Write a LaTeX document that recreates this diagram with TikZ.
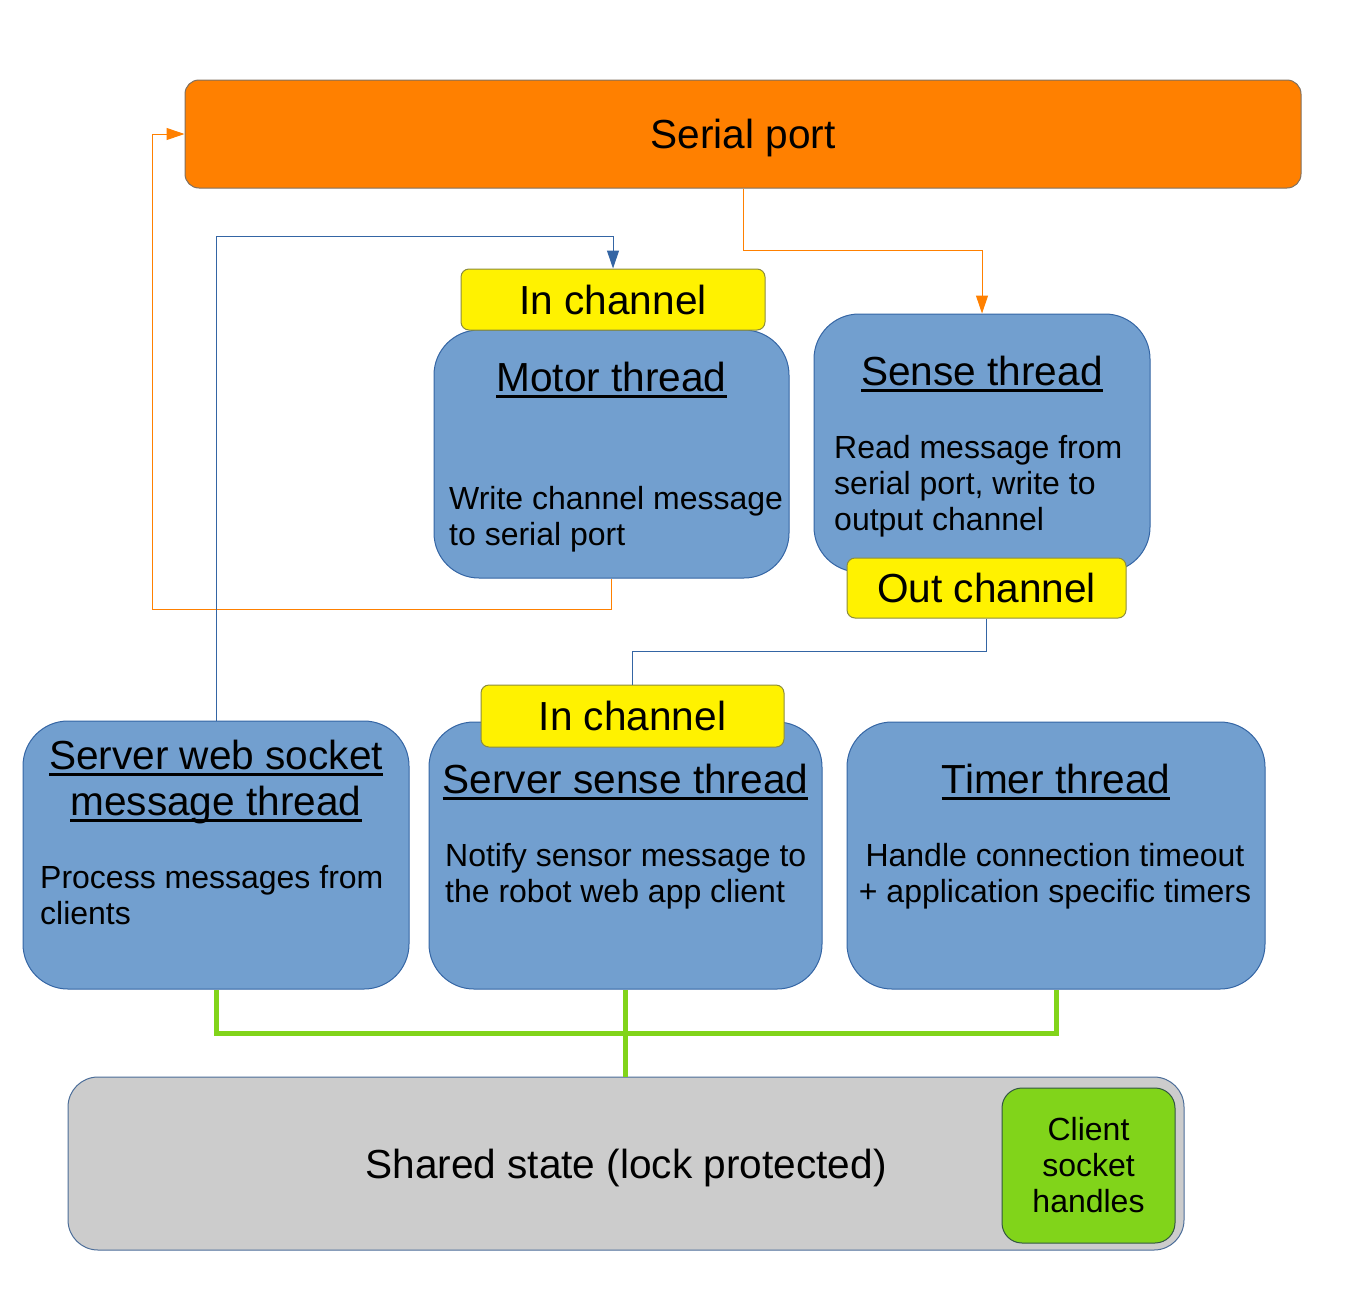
\documentclass[tikz,border=0pt]{standalone}
\usepackage{fontspec}
\setmainfont{Liberation Sans}
\usetikzlibrary{arrows.meta}
\definecolor{portorange}{HTML}{FF8000}
\definecolor{portborder}{HTML}{80705F}
\definecolor{threadblue}{HTML}{729FCF}
\definecolor{edgeblue}{HTML}{3465A4}
\definecolor{chanborder}{HTML}{8C8C3C}
\definecolor{lockgreen}{HTML}{81D41A}
\definecolor{stategray}{HTML}{CCCCCC}
\newcommand{\titlesize}{\fontsize{40.6}{46}\selectfont}
\newcommand{\textsize}{\fontsize{32}{36}\selectfont}
\newcommand{\myul}[1]{\leavevmode\setbox0\hbox{#1}\rlap{\vrule height -4pt depth 7pt width \wd0}\box0}
\tikzset{%
  myedge/.style={->, >={Triangle[length=18pt,width=12pt]}, line width=1pt},
  mythread/.style={draw=edgeblue, fill=threadblue, rounded corners=45pt, line width=1pt},
  mychannel/.style={draw=chanborder, fill=yellow, rounded corners=8pt, line width=1pt, font=\titlesize},
  mytitle/.style={font=\titlesize, inner sep=0pt, anchor=base, align=center},
  mytext/.style={font=\textsize, inner sep=0pt, anchor=base west, align=left},
  mybus/.style={lockgreen, line width=5pt}
}

\begin{document}
\begin{tikzpicture}[x=1pt, y=-1pt]
  \useasboundingbox (0,0) rectangle (1359,1296);
  \node[draw=portborder, fill=portorange, rounded corners=14pt, line width=1pt, text depth=0pt,
        minimum width=1116pt, minimum height=108pt, font=\titlesize] (serial) at (743,134) {Serial port};
  \node[mythread, minimum width=355pt, minimum height=248pt] (motor) at (611.5,454) {};
  \node[mythread, minimum width=336pt, minimum height=258pt] (sense) at (982,443) {};
  \node[mythread, minimum width=386pt, minimum height=268pt] (websock) at (216,855) {};
  \node[mythread, minimum width=393pt, minimum height=267pt] (sensesrv) at (625.5,855.5) {};
  \node[mythread, minimum width=418pt, minimum height=267pt] (timer) at (1056,855.5) {};
  \node[mychannel, minimum width=304pt, minimum height=61pt] (inchan1) at (613,299.5) {In channel};
  \node[mychannel, minimum width=279pt, minimum height=60pt] (outchan) at (986.5,588) {Out channel};
  \node[mychannel, minimum width=303pt, minimum height=62pt] (inchan2) at (632.5,716) {In channel};
  \node[draw=edgeblue!70!gray, fill=stategray, rounded corners=30pt, line width=1pt,
        minimum width=1116pt, minimum height=173pt, font=\titlesize] (shared) at (626,1163.5) {};
  \node[font=\titlesize, anchor=base] (sharedT) at (626,1178) {Shared state (lock protected)};
  \node[draw=edgeblue!60!lockgreen!60!black, fill=lockgreen, rounded corners=20pt, line width=1pt,
        minimum width=173pt, minimum height=155pt, font=\textsize, align=center] (client) at (1088.5,1165.5)
        {Client\\socket\\handles};

  \node[mytitle] (motorT) at (611.5,391) {\myul{Motor thread}};
  \node[mytext] (motorB) at (449,545) {Write channel message\\to serial port};
  \node[mytitle] (senseT) at (982,385) {\myul{Sense thread}};
  \node[mytext] (senseB) at (834,530) {Read message from\\serial port, write to\\output channel};
  \node[mytitle] (websockT) at (216,815) {\myul{Server web socket}\\\myul{message thread}};
  \node[mytext] (websockB) at (40,924) {Process messages from\\clients};
  \node[mytitle] (sensesrvT) at (625.5,793) {\myul{Server sense thread}};
  \node[mytext] (sensesrvB) at (445,902) {Notify sensor message to\\the robot web app client};
  \node[mytitle] (timerT) at (1056,793) {\myul{Timer thread}};
  \node[mytext, anchor=base, align=center] (timerB) at (1055,902) {Handle connection timeout\\+ application specific timers};

  \coordinate (s1) at (743,250);
  \coordinate (m1) at (152,609);
  \coordinate (w1) at (216,236);
  \coordinate (o1) at (986.5,651);
  \coordinate (g1) at (626,1033);
  \draw [myedge, portorange] (serial.south) -- (s1) -| (sense.north);
  \draw [myedge, portorange] (motor.south) |- (m1) |- (serial.west);
  \draw [myedge, edgeblue] (websock.north) -- (w1) -| (inchan1.north);
  \draw [edgeblue, line width=1pt] (outchan.south) -- (o1) -| (inchan2.north);
  \draw [mybus] (websock.south) |- (g1) -| (timer.south);
  \draw [mybus] (sensesrv.south) -- (sensesrv.south |- shared.north);
\end{tikzpicture}
\end{document}
